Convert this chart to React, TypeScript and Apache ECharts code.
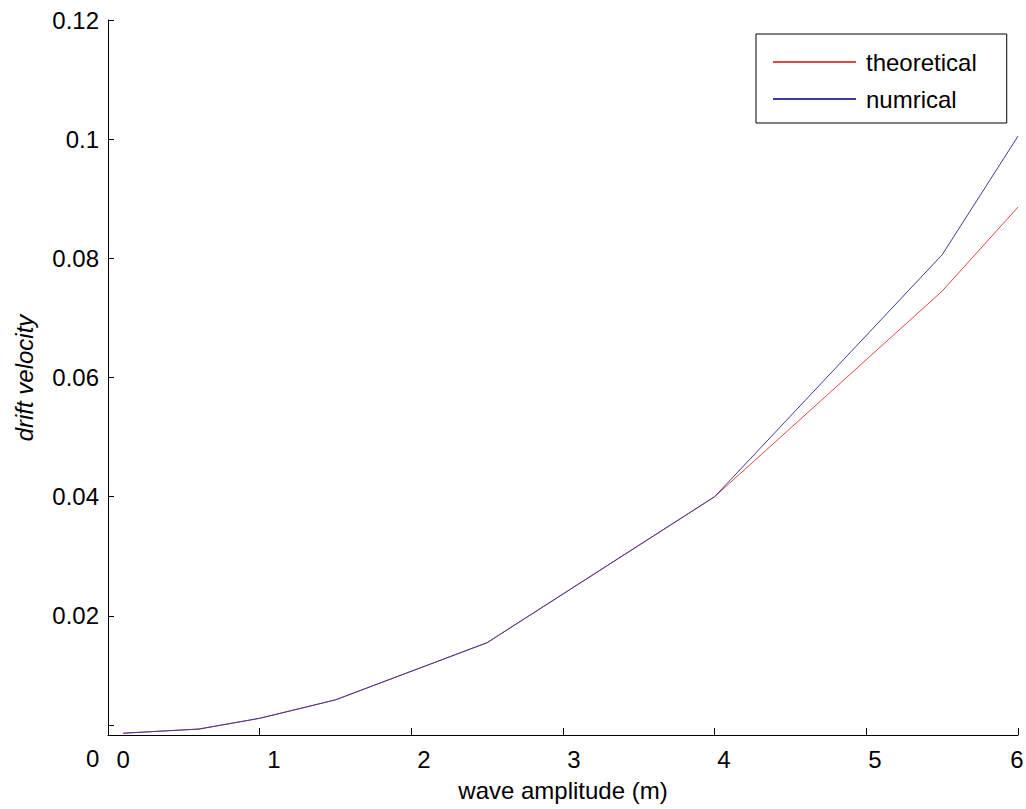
import React, { useEffect, useRef } from "react";
import * as echarts from "echarts";

const amplitude = [0.1, 0.6, 1, 1.5, 2.5, 4, 5.5, 6];
const theoretical = [0.0003, 0.001, 0.0028, 0.0059, 0.0155, 0.04, 0.0745, 0.0886];
const numrical = [0.0003, 0.001, 0.0028, 0.0059, 0.0155, 0.04, 0.0806, 0.1005];
// tick labels 0..6 as placed in the figure (slightly offset from the tick marks)
const xLabelPositions = [0.1, 1.094, 2.083, 3.072, 4.061, 5.057, 5.993];
const xTickLabels = ["0", "1", "2", "3", "4", "5", "6"];
const yTickValues = [0.0017, 0.02, 0.04, 0.06, 0.08, 0.1, 0.12];

const FONT = "Liberation Sans, Arial, sans-serif";

export default function App() {
  const ref = useRef<HTMLDivElement>(null);
  useEffect(() => {
    document.body.style.margin = "0";
    const chart = echarts.init(ref.current!, null, { renderer: "svg" });
    const mk = (arr: number[]) => amplitude.map((x, i) => [x, arr[i]]);
    chart.setOption({
      animation: false,
      backgroundColor: "#ffffff",
      textStyle: { fontFamily: FONT },
      grid: { left: 108, right: 8, top: 20, bottom: 74, containLabel: false, outerBoundsMode: "none" },
      xAxis: {
        type: "value",
        min: 0,
        max: 6,
        interval: 1,
        name: "wave amplitude (m)",
        nameLocation: "middle",
        nameGap: 43,
        nameTextStyle: { fontSize: 24, color: "#000", fontFamily: FONT },
        axisLine: { show: true, onZero: false, lineStyle: { color: "#000", width: 1 } },
        axisTick: { show: true, inside: true, length: 7, lineStyle: { color: "#000" } },
        axisLabel: {
          fontSize: 24,
          color: "#000",
          margin: 12,
          fontFamily: FONT,
          customValues: xLabelPositions,
          formatter: (v: number) => xTickLabels[Math.round(v)] ?? "",
        },
        splitLine: { show: false },
      },
      yAxis: {
        type: "value",
        min: 0,
        max: 0.12,
        interval: 0.02,
        axisLine: { show: true, onZero: false, lineStyle: { color: "#000", width: 1 } },
        axisTick: { show: true, inside: true, length: 6, lineStyle: { color: "#000" }, customValues: yTickValues },
        axisLabel: {
          fontSize: 24,
          color: "#000",
          margin: 9,
          fontFamily: FONT,
          formatter: (v: number) => (v === 0 ? "" : String(+v.toFixed(2))),
        },
        splitLine: { show: false },
      },
      legend: {
        orient: "vertical",
        left: 756,
        top: 34,
        itemWidth: 83,
        itemHeight: 14,
        itemGap: 13,
        padding: [16, 30, 12, 16],
        borderColor: "#000",
        borderWidth: 1,
        borderRadius: 0,
        backgroundColor: "#fff",
        itemStyle: { opacity: 0 },
        textStyle: { fontSize: 24, color: "#000", padding: [0, 0, 0, 5], fontFamily: FONT },
        data: ["theoretical", "numrical"],
      },
      graphic: [
        {
          type: "text",
          left: 86,
          top: 746,
          style: { text: "0", fontSize: 24, fill: "#000", fontFamily: FONT },
        },
        {
          type: "text",
          x: 24,
          y: 378,
          rotation: Math.PI / 2,
          style: {
            text: "drift velocity",
            fontSize: 24,
            fontStyle: "italic",
            fill: "#000",
            fontFamily: FONT,
            align: "center",
            verticalAlign: "middle",
          },
        },
      ],
      series: [
        {
          name: "theoretical",
          type: "line",
          data: mk(theoretical),
          symbol: "none",
          lineStyle: { color: "#e04848", width: 1 },
          itemStyle: { color: "#e04848" },
        },
        {
          name: "numrical",
          type: "line",
          data: mk(numrical),
          symbol: "none",
          lineStyle: { color: "#3c3c9c", width: 1 },
          itemStyle: { color: "#3c3c9c" },
        },
      ],
    });
    return () => chart.dispose();
  }, []);
  return <div ref={ref} style={{ width: 1026, height: 809 }} />;
}
